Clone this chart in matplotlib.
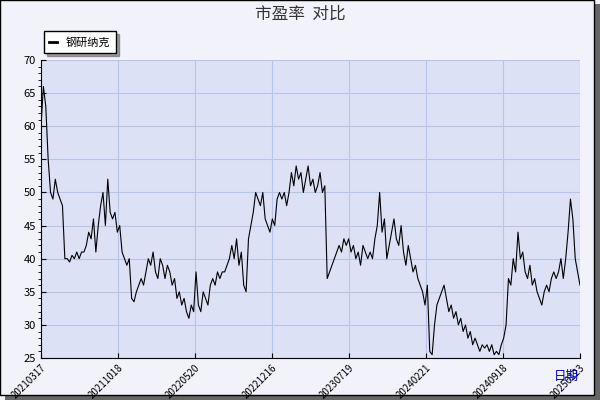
import matplotlib
matplotlib.use("Agg")
import matplotlib.pyplot as plt
from matplotlib.patches import Rectangle

plt.rcParams['font.family'] = ['Noto Sans CJK SC', 'DejaVu Sans']

tick_labels = ["20210317", "20211018", "20220520", "20221216", "20230719", "20240221", "20240918", "20250123"]
pe = [60, 66, 63, 55, 50,
      49, 52, 50, 49, 48,
      40, 40, 39.5, 40.5, 40, 41, 40, 41,
      41, 42, 44, 43, 46, 41, 45,
      48, 50, 45, 52, 47, 46, 47,
      44, 45, 41, 40, 39, 40,
      34, 33.5, 35, 36,
      37, 36, 38, 40, 39, 41, 38, 37, 40, 39,
      37, 39, 38, 36, 37, 34, 35, 33, 34,
      32, 31, 33, 32, 38, 33, 32, 35, 34,
      33, 36, 37, 36, 38, 37, 38,
      38, 39, 40, 42, 40, 43, 39, 41, 36, 35,
      43, 45, 47, 50, 49, 48, 50, 46,
      45, 44, 46, 45, 49, 50, 49, 50, 48,
      50, 53, 51, 54, 52, 53, 50, 52, 54, 51,
      52, 50, 51, 53, 50, 51,
      37, 38, 39, 40, 41, 42, 41, 43, 42,
      43, 41, 42, 40, 41, 39, 42, 41, 40,
      41, 40, 43, 45, 50, 44, 46, 40, 42,
      44, 46, 43, 42, 45, 41, 39, 42,
      40, 38, 39, 37, 36, 35, 33, 36,
      26, 25.5, 30, 33,
      34, 35, 36, 34, 32, 33, 31, 32, 30,
      31, 29, 30, 28, 29, 27, 28, 27,
      26, 27, 26.5, 27, 26, 27, 25.5, 26, 25.5, 27,
      28, 30, 37, 36, 40, 38, 44, 40,
      41, 38, 37, 39, 36, 37, 35, 34, 33, 35,
      36, 35, 37, 38, 37, 38, 40, 37,
      40, 44, 49, 46, 40, 38, 36]

n = len(pe)
fig = plt.figure(figsize=(6, 4), dpi=100)
fig.patch.set_facecolor('#f2f2fa')
fig.patches.append(Rectangle((0.008, 0.0), 0.992, 0.99, transform=fig.transFigure, facecolor='#666666', edgecolor='none', zorder=-2))
fig.patches.append(Rectangle((0.0, 0.012), 0.99, 0.988, transform=fig.transFigure, facecolor='#f2f2fa', edgecolor='black', lw=1, zorder=-1))

ax = fig.add_axes([41/600, 1-358/400, 539/600, 298/400])
ax.set_facecolor('#dce1f5')
xs = list(range(n))
ax.plot(xs, pe, color='black', lw=0.8, label='钢研纳克')
ax.set_xlim(0, n - 1)
ax.set_ylim(25, 70)
ax.set_yticks(range(25, 71, 5))
ax.set_yticks(range(25, 71, 1), minor=True)
ticks = [(n - 1) * k / 7 for k in range(8)]
ax.set_xticks(ticks)
ax.set_xticklabels(tick_labels, rotation=45, ha='right', rotation_mode='anchor', fontsize=7)
ax.tick_params(axis='y', labelsize=8, direction='in')
ax.tick_params(axis='x', direction='in')
ax.grid(True, color='#b8c4e8', lw=0.8)
for s in ['top', 'right']:
    ax.spines[s].set_visible(False)
leg = ax.legend(loc='lower left', bbox_to_anchor=(-0.005, 1.005), frameon=True, fancybox=False,
                shadow=True, fontsize=8, handlelength=0.7, borderpad=0.5)
leg.get_frame().set_edgecolor('black')
for h in leg.get_lines():
    h.set_linewidth(2)
fig.text(0.5, 0.965, '市盈率  对比', ha='center', va='center', fontsize=12, color='#333333')
fig.text(0.965, 0.06, '日期', ha='right', va='center', fontsize=9, color='#0000cc')
fig.savefig('out.png', dpi=100)
